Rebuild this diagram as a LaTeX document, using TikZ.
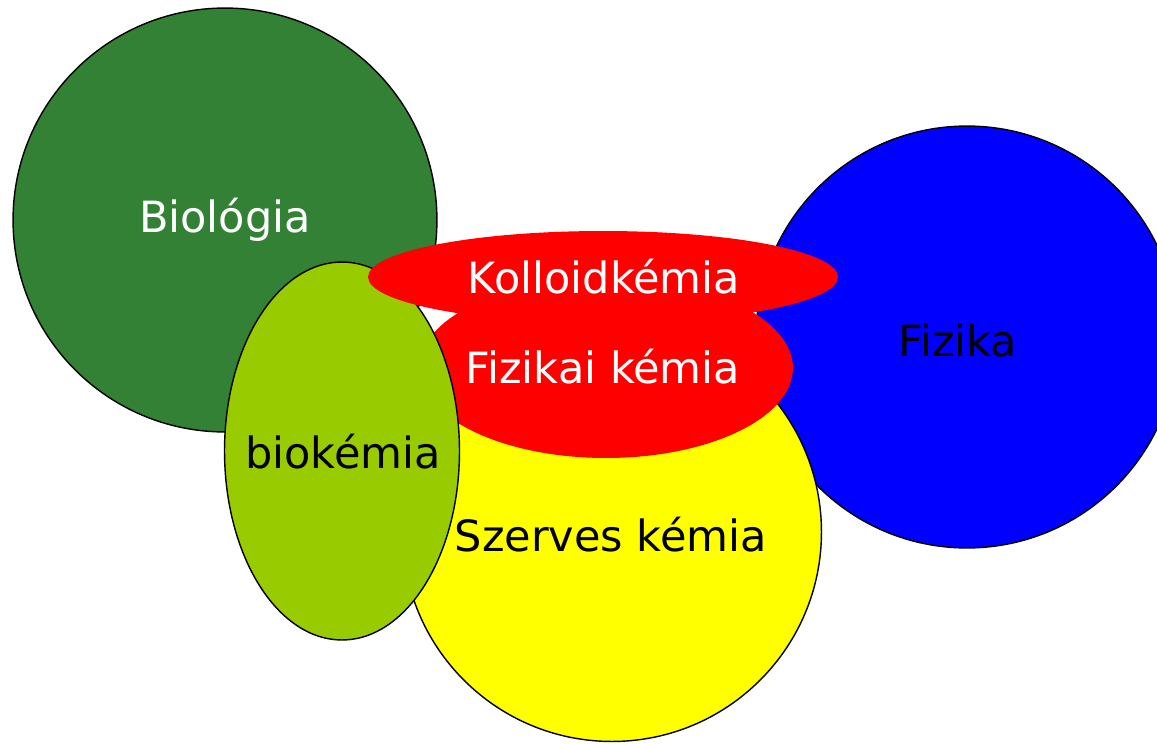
\documentclass[tikz,border=0pt]{standalone}
\usepackage{fontspec}
\setmainfont{DejaVu Sans}
\usetikzlibrary{shapes.geometric}
\definecolor{biogreen}{RGB}{50,129,52}
\definecolor{biolime}{RGB}{153,204,0}
\definecolor{szyellow}{RGB}{255,255,0}
\definecolor{fzblue}{RGB}{0,0,255}
\tikzset{
    every node/.style={inner sep=0mm, font=\fontsize{24.5}{29}\selectfont},
    disc/.style={circle, draw=black, line width=0.8pt},
    oval/.style={ellipse, draw=black, line width=0.8pt},
    blob/.style={ellipse, draw=none, fill=red, text=white}
}

\begin{document}
\begin{tikzpicture}[x=0.02cm, y=-0.02cm]
    \useasboundingbox (0,0) rectangle (1157,744);

    \node (bio) [disc, fill=biogreen, text=white, minimum size=8.48cm] at (225, 220) {Biológia};
    \node (fiz) [disc, fill=fzblue, minimum size=8.44cm] at (967, 337) {};
    \node (szk) [disc, fill=szyellow, minimum size=8.38cm] at (612, 532) {};
    \node (fzk) [blob, minimum width=7.48cm, minimum height=3.6cm] at (606, 368) {};
    \node (bik) [oval, fill=biolime, minimum width=4.7cm, minimum height=7.56cm] at (342, 451) {};
    \node (kol) [blob, minimum width=9.4cm, minimum height=1.84cm] at (603, 277) {};

    \node (kolt) [text=white] at (604, 277) {Kolloidkémia};
    \node (fzkt) [text=white] at (603, 367) {Fizikai kémia};
    \node (bikt) at (343, 452) {biokémia};
    \node (szkt) at (611, 535) {Szerves kémia};
    \node (fizt) at (958, 340) {Fizika};
\end{tikzpicture}
\end{document}
